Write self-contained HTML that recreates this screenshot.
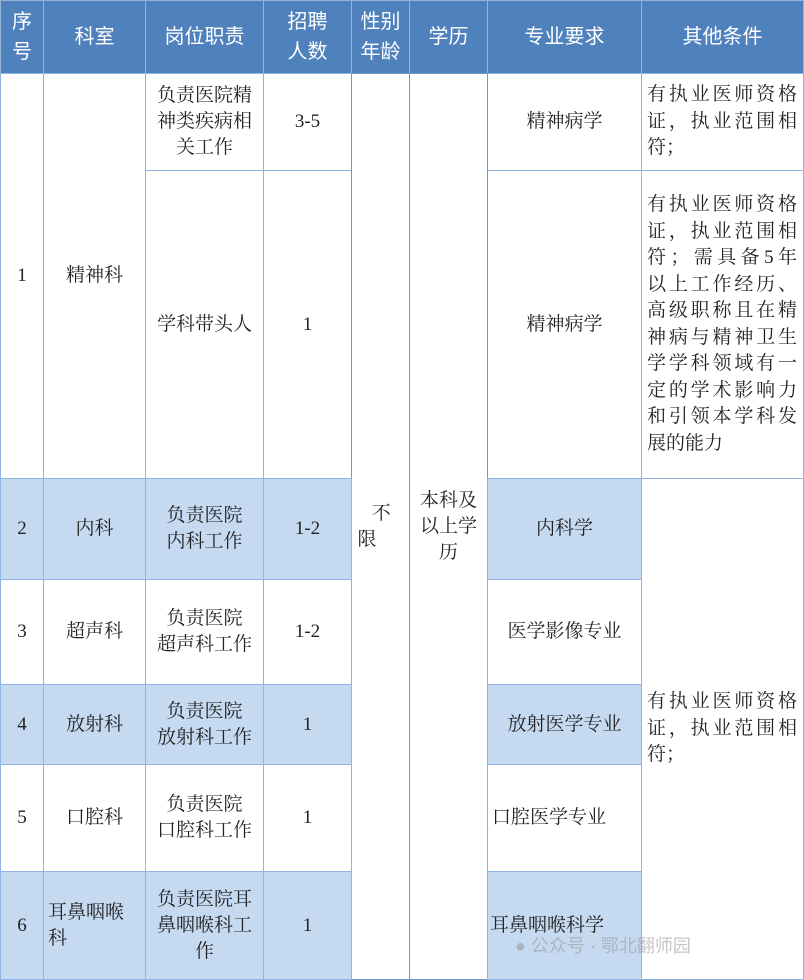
<!DOCTYPE html><html><head><meta charset="utf-8"><style>
body{margin:0;width:804px;height:980px;overflow:hidden;background:#fff;font-family:"Liberation Serif","Noto Serif CJK SC",serif;}
.c{position:absolute;box-sizing:border-box;border:1px solid #8db4e2;display:flex;align-items:center;justify-content:center;text-align:center;font-size:19px;line-height:26px;color:#222;}
.h{background:#4f81bd;color:#fff;font-size:20px;line-height:30px;border-color:#95b3d7;font-family:"Liberation Sans","Noto Sans CJK SC",sans-serif;}
.b{background:#c5d9f1;}
.l{justify-content:flex-start;padding:0 4px 0 5px;}
.l div{width:150px}
.l span{display:block;text-align:justify;text-align-last:justify;line-height:26.5px}
.l span.e{text-align-last:left}
</style></head><body>
<div class="c h" style="left:0;top:0;width:44px;height:74px">序<br>号</div>
<div class="c h" style="left:43px;top:0;width:103px;height:74px">科室</div>
<div class="c h" style="left:145px;top:0;width:119px;height:74px">岗位职责</div>
<div class="c h" style="left:263px;top:0;width:89px;height:74px">招聘<br>人数</div>
<div class="c h" style="left:351px;top:0;width:59px;height:74px">性别<br>年龄</div>
<div class="c h" style="left:409px;top:0;width:79px;height:74px">学历</div>
<div class="c h" style="left:487px;top:0;width:155px;height:74px">专业要求</div>
<div class="c h" style="left:641px;top:0;width:163px;height:74px">其他条件</div>

<div class="c" style="left:0;top:73px;width:44px;height:406px">1</div>
<div class="c" style="left:43px;top:73px;width:103px;height:406px">精神科</div>
<div class="c" style="left:145px;top:73px;width:119px;height:98px">负责医院精<br>神类疾病相<br>关工作</div>
<div class="c" style="left:263px;top:73px;width:89px;height:98px">3-5</div>
<div class="c" style="left:487px;top:73px;width:155px;height:98px">精神病学</div>
<div class="c l" style="left:641px;top:73px;width:163px;height:98px"><div><span>有执业医师资格</span><span>证，执业范围相</span><span class="e">符；</span></div></div>
<div class="c" style="left:145px;top:170px;width:119px;height:309px">学科带头人</div>
<div class="c" style="left:263px;top:170px;width:89px;height:309px">1</div>
<div class="c" style="left:487px;top:170px;width:155px;height:309px">精神病学</div>
<div class="c l" style="left:641px;top:170px;width:163px;height:309px"><div><span>有执业医师资格</span><span>证，执业范围相</span><span>符；需具备5年</span><span>以上工作经历、</span><span>高级职称且在精</span><span>神病与精神卫生</span><span>学学科领域有一</span><span>定的学术影响力</span><span>和引领本学科发</span><span class="e">展的能力</span></div></div>

<div class="c" style="left:351px;top:73px;width:59px;height:907px;border-color:#6f97c9"><span style="display:block;width:46px;text-align:left;">&nbsp;&nbsp;&nbsp;不<br>限</span></div>
<div class="c" style="left:409px;top:73px;width:79px;height:907px;border-color:#6f97c9"><span style="width:60px">本科及以上学历</span></div>

<div class="c b" style="left:0;top:478px;width:44px;height:102px">2</div>
<div class="c b" style="left:43px;top:478px;width:103px;height:102px">内科</div>
<div class="c b" style="left:145px;top:478px;width:119px;height:102px">负责医院<br>内科工作</div>
<div class="c b" style="left:263px;top:478px;width:89px;height:102px">1-2</div>
<div class="c b" style="left:487px;top:478px;width:155px;height:102px">内科学</div>

<div class="c" style="left:0;top:579px;width:44px;height:106px">3</div>
<div class="c" style="left:43px;top:579px;width:103px;height:106px">超声科</div>
<div class="c" style="left:145px;top:579px;width:119px;height:106px">负责医院<br>超声科工作</div>
<div class="c" style="left:263px;top:579px;width:89px;height:106px">1-2</div>
<div class="c" style="left:487px;top:579px;width:155px;height:106px">医学影像专业</div>

<div class="c b" style="left:0;top:684px;width:44px;height:81px">4</div>
<div class="c b" style="left:43px;top:684px;width:103px;height:81px">放射科</div>
<div class="c b" style="left:145px;top:684px;width:119px;height:81px">负责医院<br>放射科工作</div>
<div class="c b" style="left:263px;top:684px;width:89px;height:81px">1</div>
<div class="c b" style="left:487px;top:684px;width:155px;height:81px">放射医学专业</div>

<div class="c" style="left:0;top:764px;width:44px;height:108px">5</div>
<div class="c" style="left:43px;top:764px;width:103px;height:108px">口腔科</div>
<div class="c" style="left:145px;top:764px;width:119px;height:108px">负责医院<br>口腔科工作</div>
<div class="c" style="left:263px;top:764px;width:89px;height:108px">1</div>
<div class="c" style="left:487px;top:764px;width:155px;height:108px;justify-content:flex-start;padding-left:4px">口腔医学专业</div>

<div class="c b" style="left:0;top:871px;width:44px;height:109px">6</div>
<div class="c b" style="left:43px;top:871px;width:103px;height:109px;justify-content:flex-start;text-align:left;padding-left:4px">耳鼻咽喉<br>科</div>
<div class="c b" style="left:145px;top:871px;width:119px;height:109px">负责医院耳<br>鼻咽喉科工<br>作</div>
<div class="c b" style="left:263px;top:871px;width:89px;height:109px">1</div>
<div class="c b" style="left:487px;top:871px;width:155px;height:109px;justify-content:flex-start;padding-left:2px">耳鼻咽喉科学</div>

<div class="c l" style="left:641px;top:478px;width:163px;height:502px"><div><span>有执业医师资格</span><span>证，执业范围相</span><span class="e">符；</span></div></div>
<div style="position:absolute;left:515px;top:932px;font-size:18px;color:rgba(150,150,150,0.55);font-family:'Liberation Sans','Noto Sans CJK SC',sans-serif">● 公众号 · 鄂北翻师园</div>
</body></html>
